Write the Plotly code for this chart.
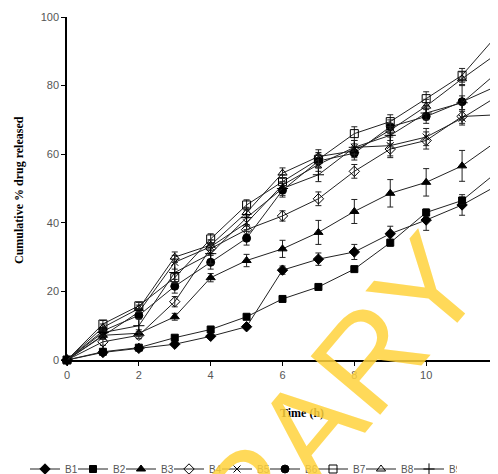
import plotly.graph_objects as go

time_h = [0, 1, 2, 3, 4, 5, 6, 7, 8, 9, 10, 11, 12]
series_names = ["B1", "B2", "B3", "B4", "B5", "B6", "B7", "B8", "B9"]

B1 = [0, 2.2, 3.4, 4.6, 6.9, 9.7, 26.2, 29.4, 31.5, 36.8, 40.8, 45.2, 51]
B2 = [0, 2.4, 3.6, 6.5, 8.9, 12.6, 17.8, 21.3, 26.5, 34.2, 43, 46.5, 55]
B3 = [0, 7.2, 7.8, 12.6, 24, 29, 32.4, 37.2, 43.3, 48.6, 51.8, 56.6, 64]
B4 = [0, 5.3, 7.2, 17, 32.5, 38, 42, 47, 55, 61.5, 64, 71, 71.5]
B5 = [0, 7, 14, 28.5, 33, 40, 51, 57, 62, 62.5, 65, 70.5, 77]
B6 = [0, 8.5, 13, 21.5, 28.5, 35.5, 49.5, 58, 60.3, 68, 71, 75.3, 80]
B7 = [0, 10.5, 15.8, 24, 35.3, 45.2, 52, 58.5, 66, 69.5, 76.2, 83, 95]
B8 = [0, 9.5, 15, 30, 33.5, 43, 54.5, 59.3, 61, 67, 74, 82, 89.5]
B9 = [0, 8, 10, 25.5, 31, 41.5, 50, 54, 62, 65.5, 72, 75, 84]

E1 = [0, 0.5, 0.5, 0.5, 0.5, 0.5, 1.2, 1.8, 2.2, 2.2, 3, 3, 3]
E2 = [0, 0.5, 0.5, 0.5, 0.5, 0.5, 0.5, 0.5, 0.5, 1, 1, 1, 2]
E3 = [0, 0.8, 1, 1, 1.2, 1.8, 2.5, 3.5, 3.5, 4, 4, 4.5, 4]
E4 = [0, 1, 1, 1.5, 1.5, 1.5, 1.5, 2, 2, 2.5, 2.5, 2, 2]
E5 = [0, 1, 1, 2, 2, 2, 2, 2, 2, 3, 2.5, 2, 2]
E6 = [0, 1, 1, 2, 2, 2, 2, 2, 2, 2, 2, 5, 2]
E7 = [0, 1, 1, 1.5, 1.5, 1.5, 2, 2, 2, 2, 2, 2, 2]
E8 = [0, 1, 1, 1.5, 1.5, 1.5, 1.5, 2, 2, 2, 2, 2, 2]
E9 = [0, 1, 2, 3, 3, 2.5, 2, 2, 2, 2.5, 2, 2, 2]

values = [B1, B2, B3, B4, B5, B6, B7, B8, B9]
errors = [E1, E2, E3, E4, E5, E6, E7, E8, E9]
symbols = ["diamond", "square", "triangle-up", "diamond-open", "x-thin-open",
           "circle", "square-open", "triangle-up-open", "cross-thin-open"]
sizes = [8, 7, 8, 8, 7, 8, 8, 8, 8]

OFF = 8  # default page body margin
W, H = 498, 474
L, T = 67 - OFF, 17 - OFF
R = OFF
B = H - (360 - OFF)
PW, PH = W - L - R, H - T - B

def px_x(sx):
    return (sx - OFF - L) / PW

def px_y(sy):
    return (H - B - (sy - OFF)) / PH

fig = go.Figure()
for name, v, e, s, sz in zip(series_names, values, errors, symbols, sizes):
    fig.add_trace(go.Scatter(
        x=time_h, y=v, name=name, mode="lines+markers",
        line=dict(color="#222222", width=1),
        marker=dict(symbol=s, size=sz, color="black",
                    line=dict(color="black", width=1)),
        error_y=dict(type="data", array=e, visible=True, color="#222222",
                     thickness=1, width=3),
        cliponaxis=False,
    ))

fig.update_layout(
    width=W, height=H,
    margin=dict(l=L, r=R, t=T, b=B, autoexpand=False),
    paper_bgcolor="white", plot_bgcolor="white",
    showlegend=True,
    legend=dict(orientation="h", x=px_x(25), xanchor="left", y=px_y(469),
                yanchor="middle", font=dict(family="Liberation Sans", size=10, color="#555"),
                entrywidth=3, entrywidthmode="pixels", tracegroupgap=0,
                itemwidth=30, bgcolor="rgba(0,0,0,0)"),
    font=dict(family="Liberation Sans", size=11, color="#555"),
)
fig.update_xaxes(range=[0, 12], tickvals=[0, 2, 4, 6, 8, 10, 12], showgrid=False,
                 zeroline=False, showline=True, linecolor="black", linewidth=1.5,
                 ticks="outside", ticklen=4, tickcolor="black", automargin=False,
                 tickfont=dict(family="Liberation Sans", size=11, color="#555"))
fig.update_yaxes(range=[0, 100], tickvals=[0, 20, 40, 60, 80, 100], showgrid=False,
                 zeroline=False, showline=True, linecolor="black", linewidth=1.5,
                 ticks="outside", ticklen=4, tickcolor="black", automargin=False,
                 tickfont=dict(family="Liberation Sans", size=11, color="#555"))

fig.add_annotation(text="<b>Cumulative % drug released</b>", xref="paper", yref="paper",
                   x=px_x(19), y=px_y(190), xanchor="center", yanchor="middle", textangle=-90,
                   showarrow=False, font=dict(family="Liberation Serif", size=12, color="black"))
fig.add_annotation(text="<b>Time (h)</b>", xref="paper", yref="paper",
                   x=px_x(302), y=px_y(413), xanchor="center", yanchor="middle",
                   showarrow=False, font=dict(family="Liberation Serif", size=12, color="black"))
fig.add_annotation(text="RARY", xref="paper", yref="paper",
                   x=px_x(338), y=px_y(395), xanchor="center", yanchor="middle",
                   textangle=-50, showarrow=False,
                   font=dict(family="Liberation Sans", size=132, color="rgba(255,210,60,0.85)"))

fig.write_html("out.html")
